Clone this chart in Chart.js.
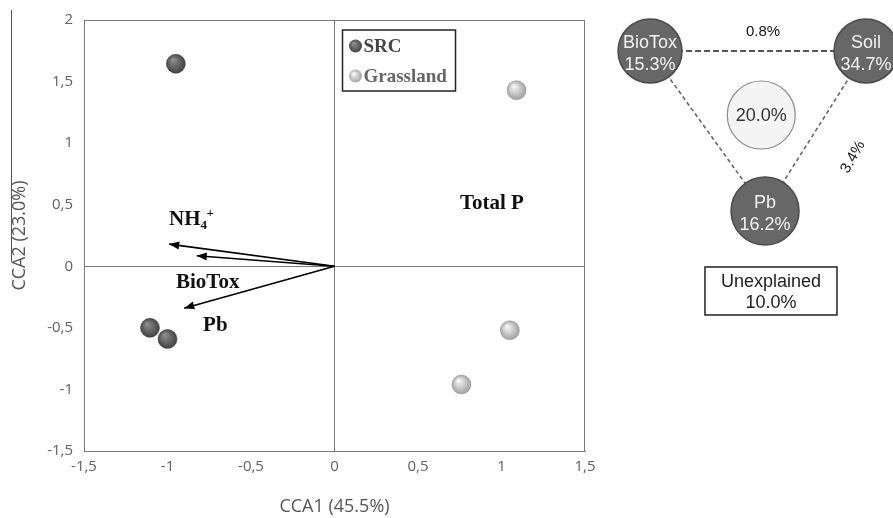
<!DOCTYPE html>
<html>
<head>
<meta charset="utf-8">
<script src="https://cdn.jsdelivr.net/npm/chart.js@4.4.1/dist/chart.umd.min.js"></script>
<style>
  html, body { margin: 0; padding: 0; background: #ffffff; }
  #wrap { position: relative; width: 893px; height: 518px; overflow: hidden; }
  #main { position: absolute; left: 0; top: 0; }
  #venn { position: absolute; left: 590px; top: 0; }
</style>
</head>
<body>
<div id="wrap">
  <canvas id="main" width="893" height="518"></canvas>
  <canvas id="venn" width="303" height="330"></canvas>
</div>
<script>
// ---------------- DATA ----------------
const seriesNames = ['SRC', 'Grassland'];
const srcX = [-0.95, -1.105, -1.0];
const srcY = [1.645, -0.50, -0.59];
const grassX = [1.09, 1.05, 0.76];
const grassY = [1.43, -0.52, -0.96];

const vectorNames = ['NH4+', 'BioTox', 'Pb'];
const vectorX = [-0.99, -0.825, -0.90];
const vectorY = [0.18, 0.085, -0.34];
const extraLabel = 'Total P';

const xTickValues = [-1.5, -1, -0.5, 0, 0.5, 1, 1.5];
const yTickValues = [-1.5, -1, -0.5, 0, 0.5, 1, 1.5, 2];
const xTitle = 'CCA1 (45.5%)';
const yTitle = 'CCA2 (23.0%)';

// variation partitioning
const partNames = ['BioTox', 'Soil', 'Pb'];
const partUnique = [15.3, 34.7, 16.2];
const sharedAll = 20.0;
const pairA = ['BioTox', 'Soil', 'BioTox'];
const pairB = ['Soil', 'Pb', 'Pb'];
const pairShared = [0.8, 3.4, null];
const unexplainedLabel = 'Unexplained';
const unexplained = 10.0;

// ---------------- LAYOUT (positions, not data) ----------------
const vectorLabelPos = [[-0.991, 0.379], [-0.949, -0.129], [-0.787, -0.484]];
const extraLabelPos = [0.751, 0.508];
const nodePos = { BioTox: [-1, 1], Soil: [1, 1], Pb: [0.065, 0] };
const centerPos = [0.03, 0.6];
const pairLabelPos = [[0.046, 1.119, 0], [0.88, 0.3375, -60], null];
const boxPos = [0.12, -0.5];

const fmtComma = v => String(v).replace('.', ',');
const pct = v => v.toFixed(1) + '%';
const zip = (xs, ys) => xs.map((x, i) => ({ x: x, y: ys[i] }));

function sphere(light, dark) {
  return function (ctx) {
    const c = ctx.chart;
    const raw = ctx.raw;
    if (!raw || !c.scales || !c.scales.x) return dark;
    const x = c.scales.x.getPixelForValue(raw.x);
    const y = c.scales.y.getPixelForValue(raw.y);
    if (!isFinite(x) || !isFinite(y)) return dark;
    const g = c.ctx.createRadialGradient(x - 3, y - 4, 0.5, x, y, 10);
    g.addColorStop(0, light);
    g.addColorStop(1, dark);
    return g;
  };
}
const SRC_LIGHT = '#8e8e8e', SRC_DARK = '#404040';
const GR_LIGHT = '#f7f7f7', GR_DARK = '#9e9e9e';

const mainPlugin = {
  id: 'mainDecor',
  afterDatasetsDraw(chart) {
    const ctx = chart.ctx;
    const a = chart.chartArea;
    const xs = chart.scales.x, ys = chart.scales.y;
    ctx.save();
    // frame
    ctx.strokeStyle = '#7a7a7a';
    ctx.lineWidth = 1;
    ctx.strokeRect(a.left + 0.5, a.top + 0.5, a.right - a.left - 1, a.bottom - a.top);
    // artifact line at left edge
    ctx.strokeStyle = '#555';
    ctx.beginPath();
    ctx.moveTo(11.5, 10);
    ctx.lineTo(11.5, 262);
    ctx.stroke();

    // arrowheads
    const x0 = xs.getPixelForValue(0), y0 = ys.getPixelForValue(0);
    ctx.fillStyle = '#000';
    vectorX.forEach((vx, i) => {
      const tx = xs.getPixelForValue(vx), ty = ys.getPixelForValue(vectorY[i]);
      const ang = Math.atan2(ty - y0, tx - x0);
      const L = 10, W = 4;
      ctx.beginPath();
      ctx.moveTo(tx, ty);
      ctx.lineTo(tx - L * Math.cos(ang) + W * Math.sin(ang), ty - L * Math.sin(ang) - W * Math.cos(ang));
      ctx.lineTo(tx - L * Math.cos(ang) - W * Math.sin(ang), ty - L * Math.sin(ang) + W * Math.cos(ang));
      ctx.closePath();
      ctx.fill();
    });

    // vector labels
    ctx.fillStyle = '#111';
    ctx.textBaseline = 'middle';
    ctx.textAlign = 'left';
    const big = 'bold 21px "Liberation Serif", "Times New Roman", serif';
    const small = 'bold 13px "Liberation Serif", "Times New Roman", serif';
    vectorNames.forEach((name, i) => {
      const px = xs.getPixelForValue(vectorLabelPos[i][0]);
      const py = ys.getPixelForValue(vectorLabelPos[i][1]);
      if (name === 'NH4+') {
        ctx.font = big;
        ctx.fillText('NH', px, py);
        const w = ctx.measureText('NH').width;
        ctx.font = small;
        ctx.fillText('4', px + w, py + 6);
        ctx.fillText('+', px + w + 6, py - 6);
      } else {
        ctx.font = big;
        ctx.fillText(name, px, py);
      }
    });
    ctx.font = big;
    ctx.fillText(extraLabel, xs.getPixelForValue(extraLabelPos[0]), ys.getPixelForValue(extraLabelPos[1]));

    // legend box
    const lx = x0 + 8, ly = a.top + 10, lw = 113, lh = 61;
    ctx.strokeStyle = '#222';
    ctx.lineWidth = 1.5;
    ctx.strokeRect(lx, ly, lw, lh);
    const cols = [[SRC_LIGHT, SRC_DARK, '#444'], [GR_LIGHT, GR_DARK, '#666']];
    seriesNames.forEach((n, i) => {
      const cy = ly + 16 + i * 30;
      const cx = lx + 13;
      const g = ctx.createRadialGradient(cx - 2, cy - 2.5, 0.5, cx, cy, 7);
      g.addColorStop(0, cols[i][0]);
      g.addColorStop(1, cols[i][1]);
      ctx.fillStyle = g;
      ctx.beginPath();
      ctx.arc(cx, cy, 6.5, 0, Math.PI * 2);
      ctx.fill();
      ctx.fillStyle = cols[i][2];
      ctx.font = 'bold 19px "Liberation Serif", "Times New Roman", serif';
      ctx.fillText(n, cx + 8, cy + 1);
    });
    ctx.restore();
  }
};

const tickFont = { family: '"Open Sans", sans-serif', size: 15 };
const titleFont = { family: '"Open Sans", sans-serif', size: 18 };
const axisCol = '#7a7a7a';

const datasets = [
  {
    label: seriesNames[0], data: zip(srcX, srcY),
    pointRadius: 9.5, pointBackgroundColor: sphere(SRC_LIGHT, SRC_DARK),
    pointBorderColor: '#333', pointBorderWidth: 0.5
  },
  {
    label: seriesNames[1], data: zip(grassX, grassY),
    pointRadius: 9.5, pointBackgroundColor: sphere(GR_LIGHT, GR_DARK),
    pointBorderColor: '#8a8a8a', pointBorderWidth: 0.5
  }
];
vectorNames.forEach((n, i) => {
  datasets.push({
    type: 'line', label: n,
    data: [{ x: 0, y: 0 }, { x: vectorX[i], y: vectorY[i] }],
    showLine: true, borderColor: '#000', borderWidth: 1.6,
    pointRadius: 0, fill: false
  });
});

new Chart(document.getElementById('main'), {
  type: 'scatter',
  data: { datasets: datasets },
  options: {
    responsive: false, animation: false, events: [],
    layout: { autoPadding: false, padding: { top: 17, right: 308, left: 0, bottom: 0 } },
    plugins: { legend: { display: false }, tooltip: { enabled: false } },
    scales: {
      x: {
        type: 'linear', min: -1.5, max: 1.5,
        afterBuildTicks: s => { s.ticks = xTickValues.map(v => ({ value: v })); },
        afterFit: s => { s.height = 67; },
        grid: {
          drawTicks: false,
          color: c => (c.tick && c.tick.value === 0 ? axisCol : 'rgba(0,0,0,0)'),
          lineWidth: 1
        },
        border: { display: true, color: axisCol },
        ticks: { padding: 7, color: '#616161', font: tickFont, callback: v => fmtComma(v), maxRotation: 0, autoSkip: false },
        title: { display: true, text: xTitle, color: '#555', font: titleFont, padding: { top: 0, bottom: 0 } }
      },
      y: {
        type: 'linear', min: -1.5, max: 2,
        afterBuildTicks: s => { s.ticks = yTickValues.map(v => ({ value: v })); },
        afterFit: s => { s.width = 84; },
        grid: {
          drawTicks: false,
          color: c => (c.tick && c.tick.value === 0 ? axisCol : 'rgba(0,0,0,0)'),
          lineWidth: 1
        },
        border: { display: true, color: axisCol },
        ticks: { padding: 11, color: '#616161', font: tickFont, callback: v => fmtComma(v), autoSkip: false },
        title: { display: true, text: yTitle, color: '#555', font: titleFont, padding: { top: 9, bottom: 0 } }
      }
    }
  },
  plugins: [mainPlugin]
});

// ---------------- VARIATION PARTITIONING DIAGRAM ----------------
const vennPlugin = {
  id: 'vennDecor',
  afterDatasetsDraw(chart) {
    const ctx = chart.ctx;
    const xs = chart.scales.x, ys = chart.scales.y;
    ctx.save();
    ctx.textAlign = 'center';
    ctx.textBaseline = 'middle';
    const f18 = '18px "Liberation Sans", Arial, sans-serif';
    // node texts
    partNames.forEach((n, i) => {
      const px = xs.getPixelForValue(nodePos[n][0]);
      const py = ys.getPixelForValue(nodePos[n][1]);
      ctx.fillStyle = '#f2f2f2';
      ctx.font = f18;
      ctx.fillText(n, px, py - 8);
      ctx.fillText(pct(partUnique[i]), px, py + 14);
    });
    // center
    ctx.fillStyle = '#333';
    ctx.fillText(pct(sharedAll), xs.getPixelForValue(centerPos[0]), ys.getPixelForValue(centerPos[1]) + 1);
    // pair labels
    ctx.font = '15px "Liberation Sans", Arial, sans-serif';
    ctx.fillStyle = '#111';
    pairShared.forEach((v, i) => {
      if (v === null || !pairLabelPos[i]) return;
      const p = pairLabelPos[i];
      ctx.save();
      ctx.translate(xs.getPixelForValue(p[0]), ys.getPixelForValue(p[1]));
      ctx.rotate(p[2] * Math.PI / 180);
      ctx.fillText(pct(v), 0, 0);
      ctx.restore();
    });
    // unexplained box
    const bx = xs.getPixelForValue(boxPos[0]), by = ys.getPixelForValue(boxPos[1]);
    const bw = 132, bh = 48;
    ctx.fillStyle = '#fff';
    ctx.fillRect(bx - bw / 2, by - bh / 2, bw, bh);
    ctx.strokeStyle = '#222';
    ctx.lineWidth = 1.5;
    ctx.strokeRect(bx - bw / 2, by - bh / 2, bw, bh);
    ctx.fillStyle = '#222';
    ctx.font = f18;
    ctx.fillText(unexplainedLabel, bx, by - 9);
    ctx.fillText(pct(unexplained), bx, by + 12);
    ctx.restore();
  }
};

const vennDatasets = [
  {
    label: 'parts',
    data: partNames.map(n => ({ x: nodePos[n][0], y: nodePos[n][1] })),
    pointRadius: [32, 32, 34], pointBackgroundColor: '#676767',
    pointBorderColor: '#4a4a4a', pointBorderWidth: 1.5, order: 0
  },
  {
    label: 'shared',
    data: [{ x: centerPos[0], y: centerPos[1] }],
    pointRadius: 34, pointBackgroundColor: '#f4f4f4',
    pointBorderColor: '#8c8c8c', pointBorderWidth: 1.2, order: 0
  }
];
pairA.forEach((a, i) => {
  const b = pairB[i];
  vennDatasets.push({
    type: 'line', label: a + '-' + b,
    data: [{ x: nodePos[a][0], y: nodePos[a][1] }, { x: nodePos[b][0], y: nodePos[b][1] }],
    showLine: true, borderColor: i === 0 ? '#555' : '#666', borderWidth: i === 0 ? 2 : 1.6,
    borderDash: i === 0 ? [6, 3] : [4, 3], pointRadius: 0, fill: false, order: 5
  });
});

new Chart(document.getElementById('venn'), {
  type: 'scatter',
  data: { datasets: vennDatasets },
  options: {
    responsive: false, animation: false, events: [],
    layout: { autoPadding: false, padding: 0 },
    plugins: { legend: { display: false }, tooltip: { enabled: false } },
    scales: {
      x: { type: 'linear', display: false, min: -1.556, max: 1.25 },
      y: { type: 'linear', display: false, min: -0.744, max: 1.319 }
    }
  },
  plugins: [vennPlugin]
});
</script>
</body>
</html>
